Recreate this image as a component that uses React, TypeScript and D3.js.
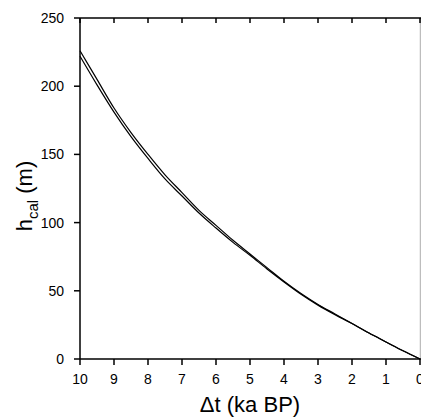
import React from "react";
import * as d3 from "d3";

const ages = [10, 9.5, 9, 8.5, 8, 7.5, 7, 6.5, 6, 5.5, 5, 4.5, 4, 3.5, 3, 2.5, 2, 1.5, 1, 0.5, 0];
const upperH = [226, 205, 184, 166, 150, 135, 122, 109, 98, 87, 77, 67, 57, 48, 40, 33, 26, 19, 12.5, 6, 0];
const lowerH = [222, 201, 181, 163, 147, 132, 119.5, 107, 96, 85.5, 76, 66, 56.5, 47.5, 39.5, 32.5, 26, 19, 12.5, 6, 0];
const xTicks = [10, 9, 8, 7, 6, 5, 4, 3, 2, 1, 0];
const yTicks = [0, 50, 100, 150, 200, 250];

export default function App() {
  const W = 421, H = 419;
  const left = 80, right = 420, top = 18, bottom = 359;
  const x = d3.scaleLinear().domain([10, 0]).range([left, right]);
  const y = d3.scaleLinear().domain([0, 250]).range([bottom, top]);
  const line = d3.line<number>().x((_, i) => x(ages[i])).y((d) => y(d)).curve(d3.curveMonotoneX);
  const font = "'Liberation Sans', Arial, sans-serif";
  return (
    <svg width={W} height={H} style={{ position: "absolute", left: 0, top: 0, background: "#fff" }}>
      <line x1={right + 0.5} x2={right + 0.5} y1={top} y2={bottom} stroke="#bdbdbd" strokeWidth={1.5} />
      <line x1={left} x2={right + 2} y1={top} y2={top} stroke="#000" strokeWidth={1.5} />
      {xTicks.map((t) => (
        <line key={"tt" + t} x1={x(t)} x2={x(t)} y1={top} y2={top + 5} stroke="#000" strokeWidth={1.5} />
      ))}
      <line x1={left} x2={right + 2} y1={bottom} y2={bottom} stroke="#000" strokeWidth={1.5} />
      <line x1={left} x2={left} y1={top} y2={bottom} stroke="#000" strokeWidth={1.5} />
      {xTicks.map((t) => (
        <g key={"bt" + t}>
          <line x1={x(t)} x2={x(t)} y1={bottom} y2={bottom + 6} stroke="#000" strokeWidth={1.5} />
          <text x={x(t)} y={bottom + 25} textAnchor="middle" fontFamily={font} fontSize={14}>{t}</text>
        </g>
      ))}
      {yTicks.map((t) => (
        <g key={"yt" + t}>
          <line x1={left - 6} x2={left} y1={y(t)} y2={y(t)} stroke="#000" strokeWidth={1.5} />
          <text x={left - 16} y={y(t) + 5} textAnchor="end" fontFamily={font} fontSize={14}>{t}</text>
        </g>
      ))}
      <path d={line(upperH) || ""} fill="none" stroke="#000" strokeWidth={1.2} />
      <path d={line(lowerH) || ""} fill="none" stroke="#000" strokeWidth={1.2} />
      <text x={(left + right) / 2} y={412} textAnchor="middle" fontFamily={font} fontSize={22}>Δt (ka BP)</text>
      <text transform={`translate(32, 196) rotate(-90)`} textAnchor="middle" fontFamily={font} fontSize={22}>
        h<tspan fontSize={15} dy={6}>cal</tspan><tspan dy={-6}> (m)</tspan>
      </text>
    </svg>
  );
}
